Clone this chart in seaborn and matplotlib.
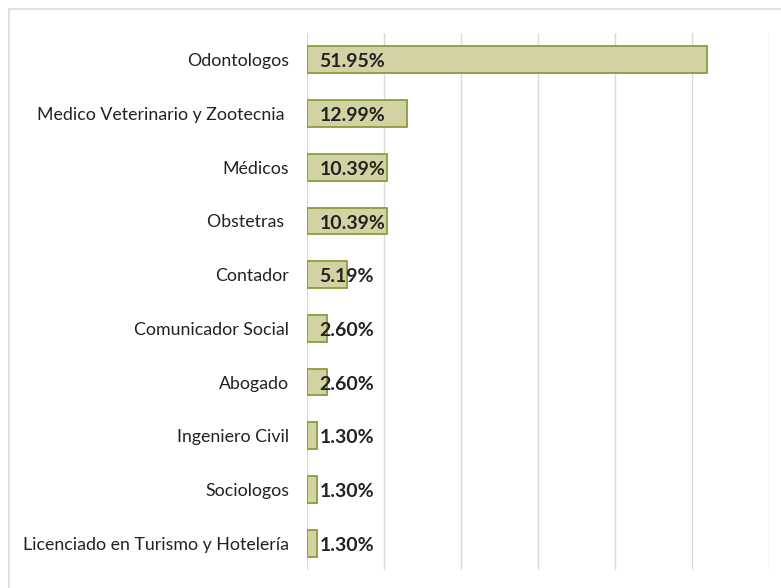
import matplotlib
matplotlib.use("Agg")
import matplotlib.pyplot as plt
import seaborn as sns
import pandas as pd
from matplotlib.patches import Rectangle

categories = ["Odontologos", "Medico Veterinario y Zootecnia ", "Médicos", "Obstetras ",
              "Contador", "Comunicador Social", "Abogado", "Ingeniero Civil",
              "Sociologos", "Licenciado en Turismo y Hotelería"]
values = [51.95, 12.99, 10.39, 10.39, 5.19, 2.60, 2.60, 1.30, 1.30, 1.30]
labels = ["51.95%", "12.99%", "10.39%", "10.39%", "5.19%", "2.60%", "2.60%", "1.30%", "1.30%", "1.30%"]

df = pd.DataFrame({"cat": categories, "val": values})

sns.set_theme(style="white")
plt.rcParams['font.family'] = ['Lato', 'DejaVu Sans']

fig = plt.figure(figsize=(7.81, 5.88), dpi=100)
ax = fig.add_axes([307/781, 1-570/588, (769-307)/781, (570-33)/588])

sns.barplot(data=df, x="val", y="cat", orient="h", ax=ax, width=0.5,
            color="#D3D2A2", edgecolor="#8A9C3A", linewidth=1.3, saturation=1)

ax.set_xlim(0, 60)
ax.set_ylim(9.5, -0.5)
ax.set_xticks([0, 10, 20, 30, 40, 50, 60])
ax.set_xticklabels([])
ax.tick_params(axis="x", length=0)
ax.tick_params(axis="y", length=0, pad=13, labelsize=12.8, colors="#222222")
ax.grid(axis="x", color="#D9D9D9", linewidth=1)
ax.set_axisbelow(True)
for s in ax.spines.values():
    s.set_visible(False)
ax.set_xlabel("")
ax.set_ylabel("")

for i, lab in enumerate(labels):
    ax.text(1.6, i + 0.04, lab, va="center", ha="left", fontsize=14, fontweight="bold", color="#222222")

fig.patches.append(Rectangle((9/781, -0.1), 1.2, 1 - 9/588 + 0.1, transform=fig.transFigure,
                             fill=False, edgecolor="#D9D9D9", linewidth=1.2, zorder=-1))

fig.savefig("out.png", dpi=100)
